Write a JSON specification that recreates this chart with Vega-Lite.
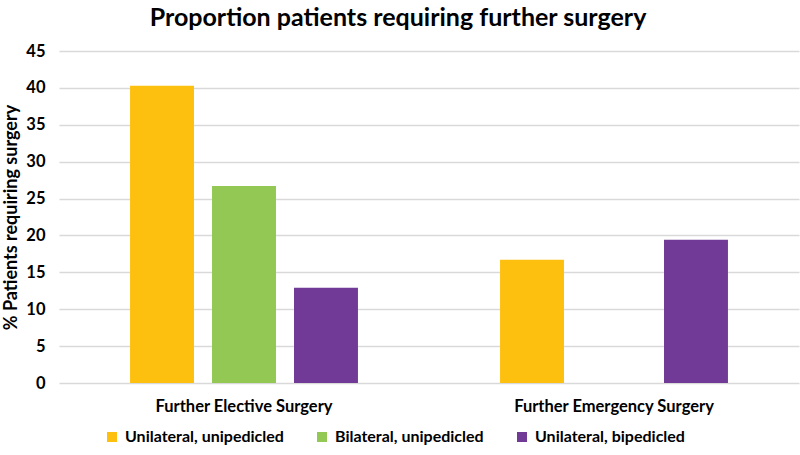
{
  "$schema": "https://vega.github.io/schema/vega-lite/v6.json",
  "autosize": "none",
  "width": 740,
  "height": 332,
  "padding": {"left": 59, "top": 51, "right": 1, "bottom": 72},
  "background": "white",
  "title": {
    "text": "Proportion patients requiring further surgery",
    "font": "Lato",
    "fontSize": 25,
    "fontWeight": "bold",
    "color": "#000000",
    "anchor": "middle",
    "dx": -31,
    "offset": 12
  },
  "data": {
    "values": [
      {"type": "Further Elective Surgery", "group": "Unilateral, unipedicled", "pct": 40.3},
      {"type": "Further Elective Surgery", "group": "Bilateral, unipedicled", "pct": 26.7},
      {"type": "Further Elective Surgery", "group": "Unilateral, bipedicled", "pct": 12.9},
      {"type": "Further Emergency Surgery", "group": "Unilateral, unipedicled", "pct": 16.7},
      {"type": "Further Emergency Surgery", "group": "Unilateral, bipedicled", "pct": 19.4}
    ]
  },
  "mark": {"type": "bar"},
  "encoding": {
    "x": {
      "field": "type",
      "type": "nominal",
      "sort": null,
      "scale": {"paddingInner": 0.384, "paddingOuter": 0.192},
      "axis": {
        "title": null,
        "labelAngle": 0,
        "labelLimit": 0,
        "labelFont": "Lato",
        "labelFontSize": 16.5,
        "labelFontWeight": "bold",
        "labelColor": "#000000",
        "labelPadding": 15,
        "domain": false,
        "ticks": false
      }
    },
    "xOffset": {
      "field": "group",
      "type": "nominal",
      "scale": {
        "domain": ["Unilateral, unipedicled", "Bilateral, unipedicled", "Unilateral, bipedicled"],
        "paddingInner": 0.22,
        "paddingOuter": 0
      }
    },
    "y": {
      "field": "pct",
      "type": "quantitative",
      "scale": {"domain": [0, 45]},
      "axis": {
        "title": "% Patients requiring surgery",
        "titleFont": "Lato",
        "titleFontSize": 18,
        "titleFontWeight": "bold",
        "titleColor": "#000000",
        "titlePadding": 5,
        "values": [0, 5, 10, 15, 20, 25, 30, 35, 40, 45],
        "labelFont": "Lato",
        "labelFontSize": 16.5,
        "labelFontWeight": "bold",
        "labelColor": "#000000",
        "labelPadding": 14,
        "ticks": false,
        "domain": false,
        "grid": true,
        "gridColor": "#d9d9d9",
        "gridWidth": 1.5
      }
    },
    "color": {
      "field": "group",
      "type": "nominal",
      "scale": {
        "domain": ["Unilateral, unipedicled", "Bilateral, unipedicled", "Unilateral, bipedicled"],
        "range": ["#FEC00F", "#92C853", "#703A96"]
      },
      "legend": {
        "title": null,
        "orient": "none",
        "direction": "horizontal",
        "legendX": 45,
        "legendY": 378,
        "symbolType": "square",
        "symbolSize": 100,
        "symbolStrokeWidth": 0,
        "labelFont": "Lato",
        "labelFontSize": 16,
        "labelFontWeight": "bold",
        "labelColor": "#000000",
        "labelOffset": 5,
        "labelLimit": 0,
        "columnPadding": 30
      }
    }
  },
  "config": {"view": {"stroke": null}}
}
